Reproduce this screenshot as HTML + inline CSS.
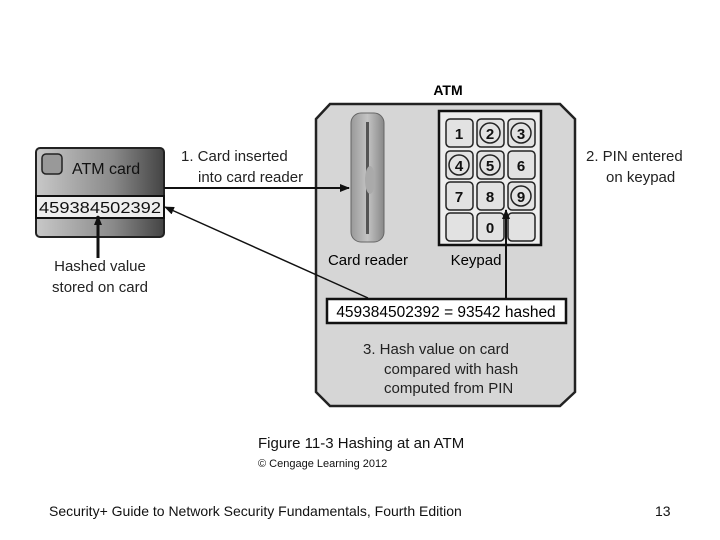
<!DOCTYPE html>
<html><head><meta charset="utf-8"><style>
html,body{margin:0;padding:0;background:#fff;width:720px;height:540px;overflow:hidden}
</style></head><body>
<svg width="720" height="540" xmlns="http://www.w3.org/2000/svg" font-family="Liberation Sans, sans-serif">
<defs>
<linearGradient id="cg" x1="0" x2="1" y1="0" y2="0"><stop offset="0" stop-color="#c8c8c8"/><stop offset="0.6" stop-color="#8a8a8a"/><stop offset="1" stop-color="#444"/></linearGradient>
<linearGradient id="rg" x1="0" x2="1"><stop offset="0" stop-color="#999"/><stop offset="0.5" stop-color="#c4c4c4"/><stop offset="1" stop-color="#888"/></linearGradient>
<marker id="ah" markerWidth="10" markerHeight="8" refX="9" refY="4" orient="auto" markerUnits="userSpaceOnUse"><path d="M0,0 L10,4 L0,8 Z" fill="#111"/></marker>
</defs>
<polygon points="330,104 560,104 575,119 575,392 560,406 330,406 316,392 316,119" fill="#d6d6d6" stroke="#222" stroke-width="2.5"/>
<text x="448" y="95" font-size="14" font-weight="bold" text-anchor="middle">ATM</text>
<rect x="351" y="113" width="33" height="129" rx="10" fill="url(#rg)" stroke="#666" stroke-width="1"/>
<rect x="366" y="122" width="3" height="112" fill="#555"/>
<ellipse cx="370" cy="180" rx="5" ry="14" fill="#aaa"/>
<text x="368" y="265" font-size="15" text-anchor="middle">Card reader</text>
<rect x="439" y="111" width="102" height="134" fill="#eee" stroke="#111" stroke-width="2.5"/>
<g fill="#e2e2e2" stroke="#222" stroke-width="1.5">
<rect x="446" y="119" width="27" height="28" rx="4"/><rect x="477" y="119" width="27" height="28" rx="4"/><rect x="508" y="119" width="27" height="28" rx="4"/>
<rect x="446" y="151" width="27" height="28" rx="4"/><rect x="477" y="151" width="27" height="28" rx="4"/><rect x="508" y="151" width="27" height="28" rx="4"/>
<rect x="446" y="182" width="27" height="28" rx="4"/><rect x="477" y="182" width="27" height="28" rx="4"/><rect x="508" y="182" width="27" height="28" rx="4"/>
<rect x="446" y="213" width="27" height="28" rx="4"/><rect x="477" y="213" width="27" height="28" rx="4"/><rect x="508" y="213" width="27" height="28" rx="4"/>
</g>
<g fill="none" stroke="#222" stroke-width="1.5">
<circle cx="490" cy="133" r="10"/><circle cx="521" cy="133" r="10"/><circle cx="459" cy="165" r="10"/><circle cx="490" cy="165" r="10"/><circle cx="521" cy="196" r="10"/>
</g>
<g font-size="15" font-weight="bold" text-anchor="middle" fill="#111">
<text x="459" y="139">1</text><text x="490" y="139">2</text><text x="521" y="139">3</text>
<text x="459" y="171">4</text><text x="490" y="171">5</text><text x="521" y="171">6</text>
<text x="459" y="202">7</text><text x="490" y="202">8</text><text x="521" y="202">9</text>
<text x="490" y="233">0</text>
</g>
<text x="476" y="265" font-size="15" text-anchor="middle">Keypad</text>
<rect x="327" y="299" width="239" height="24" fill="#fff" stroke="#111" stroke-width="2.5"/>
<text x="446" y="317" font-size="15.5" text-anchor="middle">459384502392 = 93542 hashed</text>
<line x1="506" y1="298" x2="506" y2="210" stroke="#111" stroke-width="2" marker-end="url(#ah)"/>
<text font-size="15" fill="#222"><tspan x="363" y="354">3. Hash value on card</tspan><tspan x="384" y="374">compared with hash</tspan><tspan x="384" y="393">computed from PIN</tspan></text>
<rect x="36" y="148" width="128" height="89" rx="4" fill="url(#cg)" stroke="#222" stroke-width="2"/>
<rect x="42" y="154" width="20" height="20" rx="4" fill="#999" stroke="#222" stroke-width="1.5"/>
<text x="72" y="174" font-size="16" fill="#111">ATM card</text>
<rect x="36" y="196" width="128" height="22" fill="#eee" stroke="#111" stroke-width="2"/>
<text x="39" y="213" font-size="16" textLength="122" lengthAdjust="spacingAndGlyphs" fill="#111">459384502392</text>
<line x1="98" y1="258" x2="98" y2="216" stroke="#111" stroke-width="3" marker-end="url(#ah)"/>
<text font-size="15" fill="#222" text-anchor="middle"><tspan x="100" y="271">Hashed value</tspan><tspan x="100" y="292">stored on card</tspan></text>
<line x1="164" y1="188" x2="349" y2="188" stroke="#111" stroke-width="2" marker-end="url(#ah)"/>
<line x1="368" y1="298" x2="165" y2="207" stroke="#111" stroke-width="1.5" marker-end="url(#ah)"/>
<text font-size="15" fill="#222"><tspan x="181" y="161">1. Card inserted</tspan><tspan x="198" y="182">into card reader</tspan></text>
<text font-size="15" fill="#222"><tspan x="586" y="161">2. PIN entered</tspan><tspan x="606" y="182">on keypad</tspan></text>
<text x="258" y="448" font-size="15" fill="#111">Figure 11-3 Hashing at an ATM</text>
<text x="258" y="467" font-size="11" fill="#111">© Cengage Learning 2012</text>
<text x="49" y="516" font-size="14" fill="#111">Security+ Guide to Network Security Fundamentals, Fourth Edition</text>
<text x="655" y="516" font-size="14" fill="#111">13</text>
</svg>
</body></html>
